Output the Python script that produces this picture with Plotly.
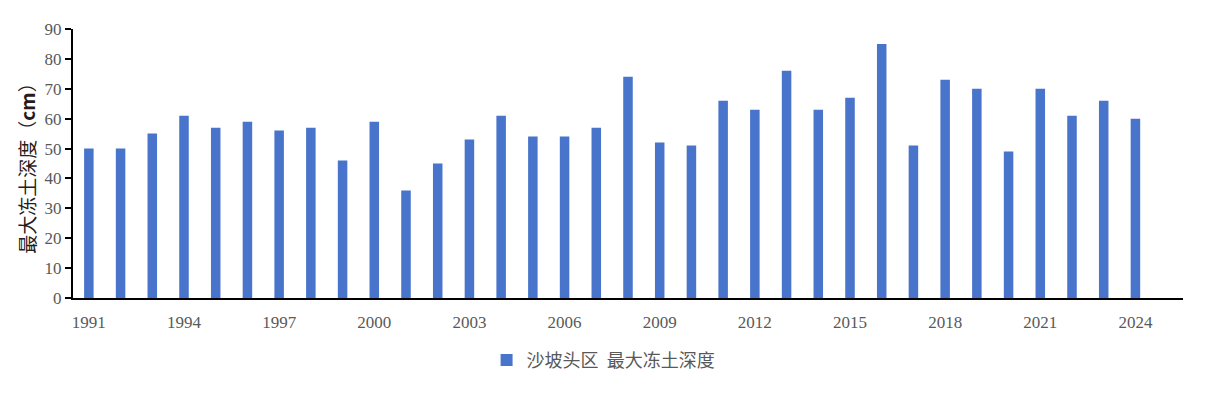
import plotly.graph_objects as go

years = [str(y) for y in range(1991, 2026)]
depth = [50, 50, 55, 61, 57, 59, 56, 57, 46, 59, 36, 45, 53, 61, 54, 54, 57, 74,
         52, 51, 66, 63, 76, 63, 67, 85, 51, 73, 70, 49, 70, 61, 66, 60, None]
tick_years = [str(y) for y in range(1991, 2025, 3)]
y_ticks = list(range(0, 91, 10))

fig = go.Figure()
fig.add_trace(go.Bar(
    x=years, y=depth, name="沙坡头区&nbsp;&nbsp;最大冻土深度",
    marker=dict(color="#4874CB", line=dict(width=0)),
    width=0.3,
))

serif = "Liberation Serif, DejaVu Serif, serif"
fig.update_layout(
    width=1207, height=393,
    margin=dict(l=65, r=32, t=14, b=103),
    paper_bgcolor="white", plot_bgcolor="white",
    showlegend=True,
    legend=dict(orientation="h", x=0.478, xanchor="center", y=-0.232, yanchor="middle",
                itemwidth=30,
                font=dict(family="Noto Sans CJK SC", size=18, color="#595959")),
    xaxis=dict(type="category", tickmode="array", tickvals=tick_years, ticktext=tick_years,
               showline=True, linecolor="black", linewidth=2, ticks="",
               ticklabelstandoff=8,
               tickfont=dict(family=serif, size=17, color="#595959"),
               showgrid=False, zeroline=False),
    yaxis=dict(range=[0, 90], tickmode="array", tickvals=y_ticks,
               showline=True, linecolor="black", linewidth=2, ticks="outside",
               ticklen=6, tickcolor="black", tickwidth=2,
               tickfont=dict(family=serif, size=17, color="#595959"),
               showgrid=False, zeroline=False,
               title=dict(text="最大冻土深度（<b>cm</b>）", standoff=4,
                          font=dict(family="Noto Sans CJK SC", size=19, color="#2a1a1a"))),
)

fig.write_html("out.html")
